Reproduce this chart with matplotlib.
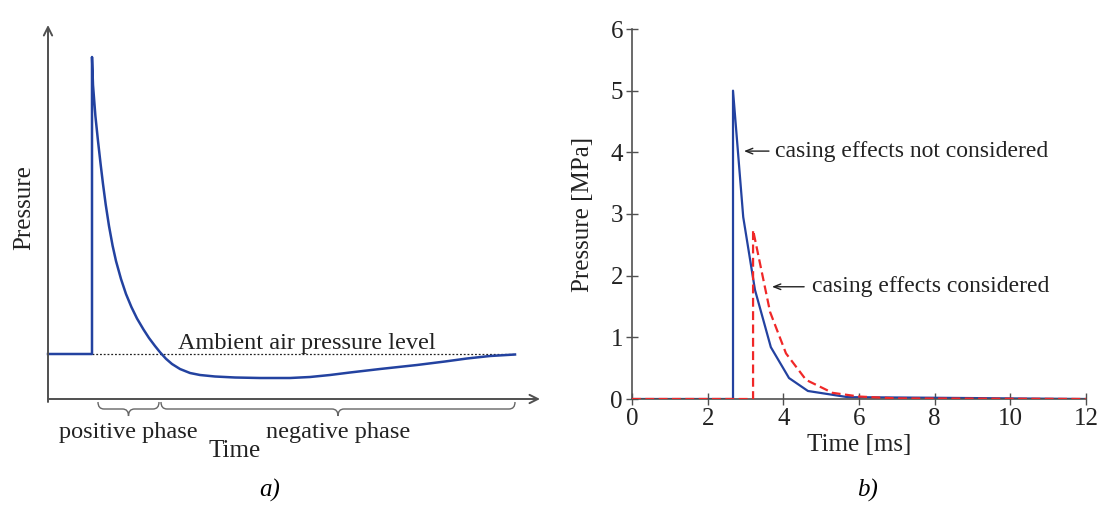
import matplotlib
matplotlib.use("Agg")
from matplotlib import pyplot as plt
from matplotlib.path import Path
from matplotlib.patches import PathPatch

plt.rcParams["font.family"] = "serif"
plt.rcParams["font.serif"] = ["Liberation Serif", "DejaVu Serif"]

# panel a) schematic blast wave (arbitrary units)
schem_t = [0, 4.4, 4.4, 4.5, 4.74, 5.0, 5.26, 5.5, 5.77, 6.1, 6.46, 6.8, 7.3,
           7.8, 8.34, 8.9, 9.55, 10.1, 10.7, 11.2, 11.8, 12.4, 13.2, 14.2,
           15.2, 16.7, 18.7, 21.2, 24.2, 26.2, 28.2, 30.2, 33.2, 36.9, 39.7,
           41.9, 44.2, 46.7]
schem_p = [4.5, 4.5, 34.2, 31.4, 28.3, 25.8, 23.5, 21.5, 19.45, 17.3, 15.33,
           13.8, 12.0, 10.5, 9.2, 8.05, 6.95, 6.1, 5.3, 4.68, 4.02, 3.5, 3.0,
           2.6, 2.4, 2.25, 2.15, 2.1, 2.1, 2.2, 2.4, 2.65, 3.0, 3.4, 3.75,
           4.05, 4.3, 4.45]
ambient = 4.5
phase_start = 5.0
phase_zero = 11.2
phase_end = 46.7

# panel b) pressure histories
blue_t = [0, 2.67, 2.67, 2.94, 3.25, 3.67, 4.15, 4.65, 5.7, 8.0, 10.0, 12.0]
blue_p = [0, 0, 5.0, 2.95, 1.77, 0.84, 0.34, 0.13, 0.03, 0.02, 0.01, 0.0]
red_t = [0, 3.2, 3.2, 3.65, 4.07, 4.6, 5.3, 6.0, 7.0, 12.0]
red_p = [0, 0, 2.74, 1.41, 0.74, 0.31, 0.10, 0.04, 0.01, 0.0]

blue = "#2342a0"
red = "#f02828"
axcol = "#505050"
txtcol = "#222222"
fs = 18


def brace(ax, x0, x1, yt, yb, r=0.7):
    xm = (x0 + x1) / 2
    ym = (yt + yb) / 2
    verts = [(x0, yt), (x0, ym), (x0 + r, ym), (xm - r, ym), (xm, ym), (xm, yb),
             (xm, ym), (xm + r, ym), (x1 - r, ym), (x1, ym), (x1, yt)]
    codes = [Path.MOVETO, Path.CURVE3, Path.CURVE3, Path.LINETO, Path.CURVE3,
             Path.CURVE3, Path.CURVE3, Path.CURVE3, Path.LINETO, Path.CURVE3,
             Path.CURVE3]
    ax.add_patch(PathPatch(Path(verts, codes), fill=False, ec="#666666",
                           lw=1.0, clip_on=False))


fig = plt.figure(figsize=(10.99, 5.32), dpi=100)

# ---- panel a)
ax1 = fig.add_axes([48 / 1099, 133 / 532, 492 / 1099, 374 / 532])
ax1.set_xlim(0, 49.2)
ax1.set_ylim(0, 37.4)
ax1.axis("off")

arrow = dict(arrowstyle="->,head_length=0.6,head_width=0.3", color=axcol,
             lw=1.4, shrinkA=0, shrinkB=0)
ax1.annotate("", xy=(0, 37.4), xytext=(0, -0.3), arrowprops=arrow,
             annotation_clip=False)
ax1.annotate("", xy=(49.2, 0), xytext=(0, 0), arrowprops=arrow,
             annotation_clip=False)

ax1.plot([4.4, phase_end], [ambient, ambient], color="#222222", lw=0.9,
         ls=(0, (1.5, 1.5)))
ax1.plot(schem_t, schem_p, color=blue, lw=1.8, clip_on=False,
         solid_joinstyle="round")

brace(ax1, phase_start, phase_zero - 0.1, -0.3, -1.7, r=0.6)
brace(ax1, phase_zero + 0.1, phase_end, -0.3, -1.7, r=0.6)

ax1.text(13.0, 5.0, "Ambient air pressure level", fontsize=17.5,
         color=txtcol, va="baseline", ha="left")
ax1.text(8.0, -3.9, "positive phase", fontsize=17.5, color=txtcol,
         ha="center", va="baseline")
ax1.text(29.0, -3.9, "negative phase", fontsize=17.5, color=txtcol,
         ha="center", va="baseline")
ax1.text(18.7, -5.8, "Time", fontsize=fs, color=txtcol, ha="center",
         va="baseline")
ax1.text(-2.4, 19.1, "Pressure", fontsize=fs, color=txtcol, rotation=90,
         ha="center", va="center")

# ---- panel b)
ax2 = fig.add_axes([632 / 1099, 133 / 532, 454 / 1099, 370 / 532])
ax2.plot(red_t, red_p, color=red, lw=1.6, ls=(0, (4, 2)), zorder=3)
ax2.plot(blue_t, blue_p, color=blue, lw=1.6, zorder=2)
ax2.set_xlim(0, 12)
ax2.set_ylim(0, 6)
ax2.set_xticks(range(0, 13, 2))
ax2.set_yticks(range(0, 7))
for s in ["top", "right"]:
    ax2.spines[s].set_visible(False)
for s in ["left", "bottom"]:
    ax2.spines[s].set_color(axcol)
    ax2.spines[s].set_linewidth(1.2)
ax2.tick_params(direction="inout", length=9, width=1.0, color=axcol,
                labelsize=fs, labelcolor=txtcol, pad=2)
ax2.set_xlabel("Time [ms]", fontsize=fs, color=txtcol, labelpad=3)
ax2.set_ylabel("Pressure [MPa]", fontsize=fs, color=txtcol, labelpad=12)

small_arrow = dict(arrowstyle="->,head_length=0.5,head_width=0.2",
                   color="#222222", lw=1.0, shrinkA=0, shrinkB=0)
ax2.annotate("", xy=(2.96, 4.02), xytext=(3.62, 4.02), arrowprops=small_arrow)
ax2.text(3.78, 4.02, "casing effects not considered", fontsize=17,
         color=txtcol, va="center", ha="left")
ax2.annotate("", xy=(3.70, 1.82), xytext=(4.55, 1.82), arrowprops=small_arrow)
ax2.text(4.76, 1.82, "casing effects considered", fontsize=17,
         color=txtcol, va="center", ha="left")

fig.text(270 / 1099, 1 - 490 / 532, "a)", fontsize=fs, style="italic",
         color="black", ha="center", va="center")
fig.text(868 / 1099, 1 - 490 / 532, "b)", fontsize=fs, style="italic",
         color="black", ha="center", va="center")

fig.savefig("out.png", dpi=100)
